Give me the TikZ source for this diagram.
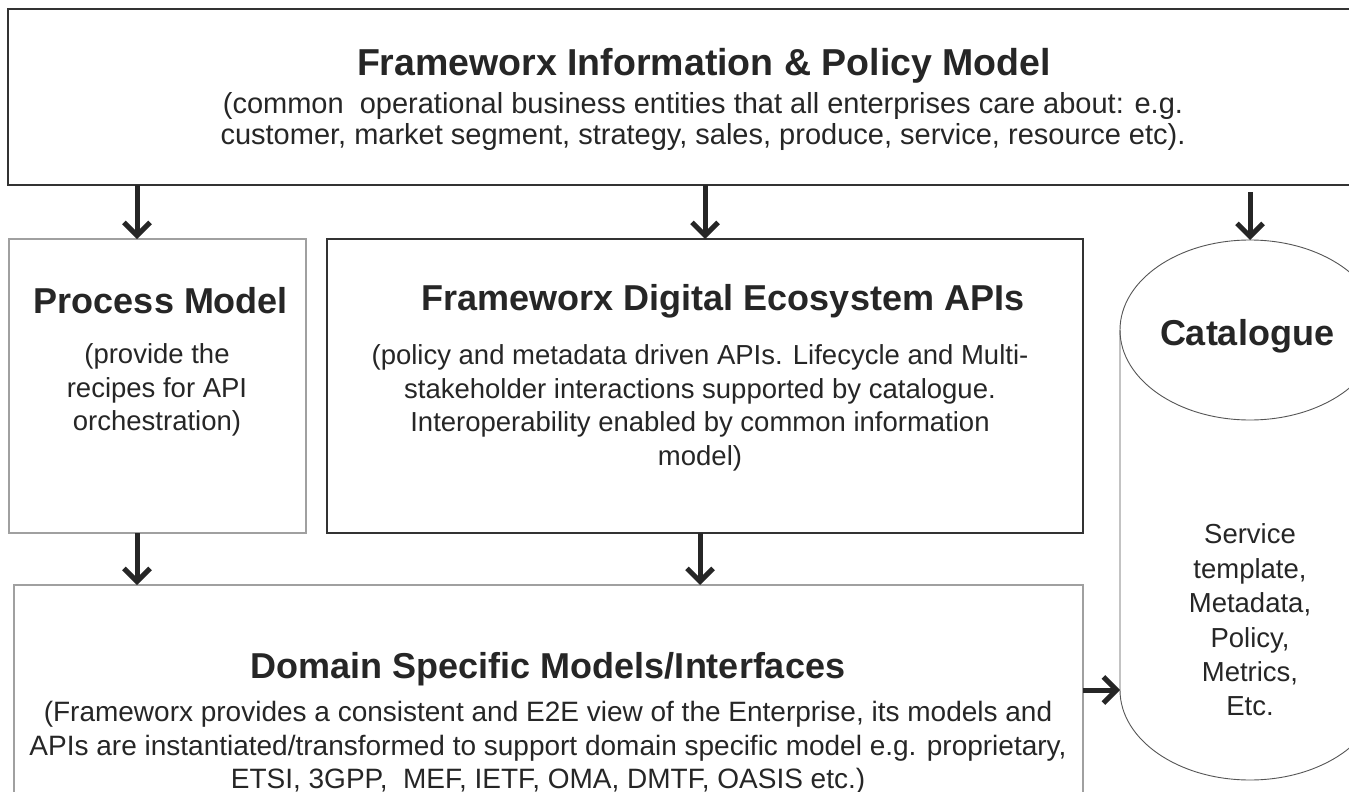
\documentclass[tikz,border=0pt]{standalone}
\usepackage{fontspec}
\setmainfont{Liberation Sans}
\usetikzlibrary{arrows.meta}
\definecolor{txt}{HTML}{262626}
\definecolor{dk}{HTML}{333333}
\definecolor{lg}{HTML}{A0A0A0}
\definecolor{cl}{HTML}{555555}
\tikzset{
  ttl/.style={font=\fontsize{36}{42}\selectfont\bfseries, text=txt, inner sep=0pt, align=center},
  bodytxt/.style={font=\fontsize{27.5}{33.5}\selectfont, text=txt, inner sep=0pt, align=center},
  darkbox/.style={draw=dk, line width=2pt},
  lightbox/.style={draw=lg, line width=1.2pt},
  arr/.style={draw=txt, line width=5pt, -{Straight Barb[length=13pt,width=26pt]}},
  cyl/.style={draw=cl, line width=0.9pt}
}
\begin{document}
\begin{tikzpicture}[x=1pt,y=-1pt]
\useasboundingbox (0,0) rectangle (1349,792);
\clip (0,0) rectangle (1349,792);
\fill[white] (0,0) rectangle (1349,792);

% boxes
\draw[darkbox] (8,9) rectangle (1370,185);
\draw[lightbox] (9,239) rectangle (306,533);
\draw[darkbox] (327,239) rectangle (1083,533);
\draw[lightbox] (14,585) rectangle (1083,820);

% catalogue cylinder
\draw[cyl] (1120,330) -- (1120,690) arc[start angle=180,end angle=0,x radius=130,y radius=90] -- (1380,330);
\draw[cyl] (1250,330) ellipse[x radius=130,y radius=90];
\coordinate (catTop) at (1250,240);
\coordinate (catLeft) at (1120,690);

% anchor coordinates for arrows
\coordinate (a1s) at (137,185);
\coordinate (a1e) at (137,239);
\coordinate (a2s) at (705,185);
\coordinate (a2e) at (705,239);
\coordinate (a3s) at (1250,192);
\coordinate (b1s) at (137,533);
\coordinate (b1e) at (137,585);
\coordinate (b2s) at (700,533);
\coordinate (b2e) at (700,585);
\coordinate (domE) at (1083,690);

\draw[arr] (a1s) -- (a1e);
\draw[arr] (a2s) -- (a2e);
\draw[arr] (a3s) -- (catTop);
\draw[arr] (b1s) -- (b1e);
\draw[arr] (b2s) -- (b2e);
\draw[arr] (domE) -- (catLeft);

% texts
\node[ttl, font=\fontsize{37.5}{42}\selectfont\bfseries] (topT) at (704,66) {Frameworx Information \& Policy Model};
\node[bodytxt, font=\fontsize{29}{31}\selectfont] (topB) at (703,122) {(common\ \ operational business entities that all enterprises care about: e.g.\\customer, market segment, strategy, sales, produce, service, resource etc).};

\node[ttl] (procT) at (161,301) {Process Model};
\node[bodytxt] (procB) at (157,390) {(provide the\\recipes for API\\orchestration)};

\node[ttl] (apiT) at (723,301) {Frameworx Digital Ecosystem APIs};
\node[bodytxt] (apiB) at (700,408) {(policy and metadata driven APIs. Lifecycle and Multi-\\stakeholder interactions supported by catalogue.\\Interoperability enabled by common information\\model)};

\node[ttl] (catT) at (1247,336) {Catalogue};
\node[bodytxt, font=\fontsize{27.5}{34.4}\selectfont] (catB) at (1250,620) {Service\\template,\\Metadata,\\Policy,\\Metrics,\\Etc.};

\node[ttl] (domT) at (548,669) {Domain Specific Models/Interfaces};
\node[bodytxt, font=\fontsize{28}{33.5}\selectfont] (domB) at (548,748) {(Frameworx provides a consistent and E2E view of the Enterprise, its models and\\APIs are instantiated/transformed to support domain specific model e.g. proprietary,\\ETSI, 3GPP,\ \ MEF, IETF, OMA, DMTF, OASIS etc.)};
\end{tikzpicture}
\end{document}
